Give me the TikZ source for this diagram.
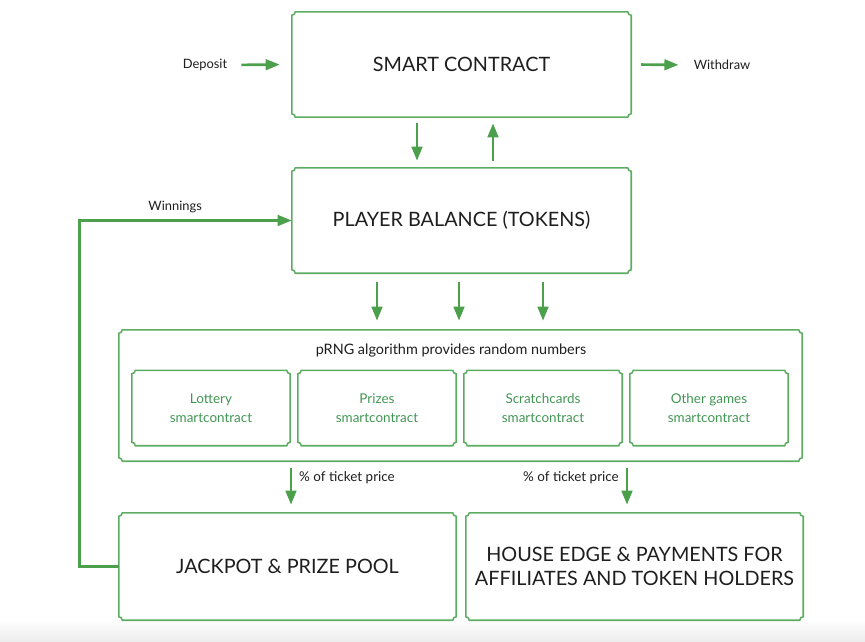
\documentclass[tikz,border=0pt]{standalone}
\usepackage{fontspec}
\setmainfont{Lato}
\usetikzlibrary{arrows.meta,calc}

\definecolor{boxgreen}{RGB}{92,172,98}
\definecolor{arrowgreen}{RGB}{76,160,76}
\definecolor{gamegreen}{RGB}{66,150,84}
\definecolor{ink}{RGB}{30,30,30}

\newcommand{\capsfont}{\fontsize{16.9}{20.5}\selectfont}
\newcommand{\notefont}{\fontsize{11}{13}\selectfont}
\newcommand{\gamefont}{\fontsize{11.5}{16}\selectfont}
\newcommand{\notch}{3pt}

% notched frame round a named node
\newcommand{\ticketframe}[1]{%
  \draw[frame] ($(#1.north west)+(0,-\notch)$) arc[start angle=270,end angle=360,radius=\notch]
    -- ($(#1.north east)+(-\notch,0)$) arc[start angle=180,end angle=270,radius=\notch]
    -- ($(#1.south east)+(0,\notch)$) arc[start angle=90,end angle=180,radius=\notch]
    -- ($(#1.south west)+(\notch,0)$) arc[start angle=0,end angle=90,radius=\notch]
    -- cycle;}

\begin{document}
\begin{tikzpicture}[x=0.03cm,y=-0.03cm,
box/.style 2 args={minimum width=#1*0.03cm,minimum height=#2*0.03cm,inner sep=0pt,align=center,text=ink},
frame/.style={draw=boxgreen,line width=1.3pt},
flow/.style={draw=arrowgreen,line width=2.3pt,-{Triangle[length=12pt,width=9pt]}},
note/.style={inner sep=0pt,text=ink,font=\notefont}]

\useasboundingbox (0,0) rectangle (865,641);
\shade[top color=white,bottom color=black!7] (0,619) rectangle (865,641);

\draw (461.5,64.5) node[box={339}{105},font=\capsfont] (sc) {SMART CONTRACT};
\draw (461.5,220.5) node[box={339}{105},font=\capsfont] (pb) {PLAYER BALANCE (TOKENS)};
\draw (460.5,395.5) node[box={683}{131}] (rng) {};
\draw (451,351) node[note,font=\fontsize{12.3}{14}\selectfont] (rngtxt) {pRNG algorithm provides random numbers};
\draw (287.5,566.5) node[box={337}{107},font=\capsfont] (jp) {JACKPOT \& PRIZE POOL};
\draw (634.5,566.5) node[box={337}{107},font=\capsfont] (he) {HOUSE EDGE \& PAYMENTS FOR\\AFFILIATES AND TOKEN HOLDERS};

\foreach \n in {sc,pb,rng,jp,he} {\ticketframe{\n}}

\foreach \x/\n/\t in {211/lot/Lottery,377/prz/Prizes,543/scr/Scratchcards,709/oth/Other games} {
  \draw (\x,408) node[box={158}{75},text=gamegreen,font=\gamefont] (\n) {\t\\smartcontract};
  \ticketframe{\n}
}

\draw (205,65) node[note] (dep) {Deposit};
\draw (722,65) node[note] (wd) {Withdraw};

\draw[flow,shorten <=0.42cm,shorten >=0.36cm] (dep.east) -- (sc.west);
\draw[flow,shorten <=0.3cm,shorten >=0.45cm] (sc.east) -- (wd.west);
\draw[flow,shorten <=0.18cm,shorten >=0.21cm] (417,0 |- sc.south) -- (417,0 |- pb.north);
\draw[flow,shorten <=0.21cm,shorten >=0.18cm] (493,0 |- pb.north) -- (493,0 |- sc.south);

\foreach \x in {377,459,543}
  \draw[flow,shorten <=0.27cm,shorten >=0.27cm] (\x,0 |- pb.south) -- (\x,0 |- rng.north);

\draw[flow,shorten <=0.21cm,shorten >=0.24cm] (291,0 |- rng.south) -- (291,0 |- jp.north);
\draw[flow,shorten <=0.21cm,shorten >=0.24cm] (627,0 |- rng.south) -- (627,0 |- he.north);
\draw (347,478) node[note,font=\fontsize{11.5}{13}\selectfont] (cut1) {\% of ticket price};
\draw (571,478) node[note,font=\fontsize{11.5}{13}\selectfont] (cut2) {\% of ticket price};

\draw[flow] (jp.west) -- ++(-39,0) |- node[pos=0.725,note,above=5pt] (win) {Winnings} (pb.west);
\end{tikzpicture}
\end{document}
